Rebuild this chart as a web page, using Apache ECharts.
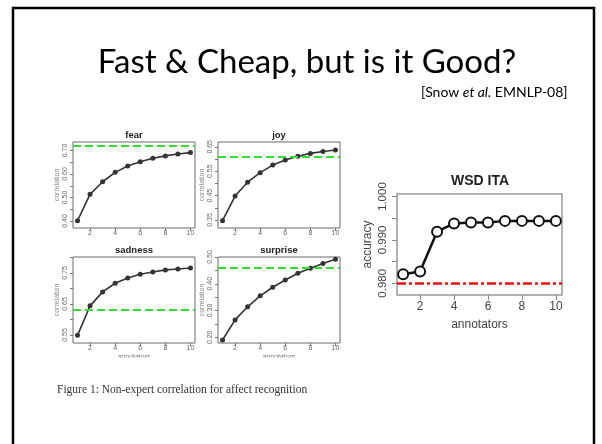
<!DOCTYPE html>
<html>
<head>
<meta charset="utf-8">
<script src="https://cdn.jsdelivr.net/npm/echarts@6/dist/echarts.min.js"></script>
<style>
  html, body { margin: 0; padding: 0; background: #fff; }
  #main { width: 602px; height: 444px; }
</style>
</head>
<body>
<div id="main"></div>
<script>
// annotators on the x axis, shared by every panel
const annotators = [1, 2, 3, 4, 5, 6, 7, 8, 9, 10];
const xTicks = [2, 4, 6, 8, 10];

// correlation curves (affect recognition)
const fear = [0.401, 0.514, 0.567, 0.607, 0.634, 0.652, 0.667, 0.677, 0.685, 0.691];
const joy = [0.347, 0.448, 0.505, 0.544, 0.575, 0.596, 0.611, 0.623, 0.631, 0.637];
const sadness = [0.549, 0.644, 0.689, 0.717, 0.734, 0.746, 0.753, 0.760, 0.763, 0.766];
const surprise = [0.190, 0.265, 0.314, 0.355, 0.387, 0.414, 0.439, 0.458, 0.476, 0.492];
const expertLevel = { fear: 0.716, joy: 0.607, sadness: 0.633, surprise: 0.456 };

// y ticks / labels of the small panels
const fearTicks = [0.40, 0.45, 0.50, 0.55, 0.60, 0.65, 0.70];
const fearLabels = [0.40, 0.50, 0.60, 0.70];
const joyTicks = [0.35, 0.40, 0.45, 0.50, 0.55, 0.60, 0.65];
const joyLabels = [0.35, 0.45, 0.55, 0.65];
const sadnessTicks = [0.55, 0.60, 0.65, 0.70, 0.75, 0.80];
const sadnessLabels = [0.55, 0.65, 0.75];
const surpriseTicks = [0.20, 0.25, 0.30, 0.35, 0.40, 0.45, 0.50];
const surpriseLabels = [0.20, 0.30, 0.40, 0.50];

// WSD inter-annotator agreement
const wsdAccuracy = [0.9821, 0.9827, 0.9919, 0.9938, 0.9940, 0.9940, 0.9944, 0.9944, 0.9944, 0.9944];
const wsdExpert = 0.980;
const wsdTicks = [0.980, 0.985, 0.990, 0.995, 1.000];
const wsdLabels = [0.980, 0.990, 1.000];

const FONT = 'Liberation Sans';

// one small R-style panel
function smallPanel(i, box, vals, base, yMin, yMax, ticks, labels, xName) {
  return {
    grid: Object.assign({ show: true, borderColor: '#6a6a6a', borderWidth: 1, backgroundColor: 'transparent' }, box),
    xAxis: {
      type: 'value', gridIndex: i, min: 0.64, max: 10.36,
      axisLine: { show: false, onZero: false }, splitLine: { show: false },
      axisTick: { length: 3, customValues: xTicks, lineStyle: { color: '#777' } },
      axisLabel: { customValues: xTicks, fontSize: 7, color: '#666', margin: 2, fontFamily: FONT },
      name: xName, nameLocation: 'middle', nameGap: 11,
      nameTextStyle: { fontSize: 7, color: '#777', fontFamily: FONT }
    },
    yAxis: {
      type: 'value', gridIndex: i, min: yMin, max: yMax,
      axisLine: { show: false, onZero: false }, splitLine: { show: false },
      axisTick: { length: 3, customValues: ticks, lineStyle: { color: '#777' } },
      axisLabel: {
        customValues: labels, rotate: 90, fontSize: 7, color: '#666', margin: 4, fontFamily: FONT,
        formatter: v => v.toFixed(2)
      },
      name: 'correlation', nameLocation: 'middle', nameGap: 12,
      nameTextStyle: { fontSize: 7, color: '#888', fontFamily: FONT }
    },
    series: {
      type: 'line', xAxisIndex: i, yAxisIndex: i,
      data: annotators.map((x, k) => [x, vals[k]]),
      symbol: 'circle', symbolSize: 5,
      itemStyle: { color: '#333' },
      lineStyle: { color: '#333', width: 1.6 },
      markLine: {
        silent: true, symbol: 'none', label: { show: false },
        lineStyle: { color: '#33dd33', type: [8, 4], width: 1.8 },
        data: [{ yAxis: base }]
      }
    }
  };
}

const panels = [
  smallPanel(0, { left: 73, top: 142, width: 122, height: 86 }, fear, expertLevel.fear, 0.3702, 0.7362, fearTicks, fearLabels, ''),
  smallPanel(1, { left: 218, top: 142, width: 122, height: 86 }, joy, expertLevel.joy, 0.3172, 0.6697, joyTicks, joyLabels, ''),
  smallPanel(2, { left: 73, top: 257, width: 122, height: 86 }, sadness, expertLevel.sadness, 0.5242, 0.8016, sadnessTicks, sadnessLabels, 'annotators'),
  smallPanel(3, { left: 218, top: 257, width: 122, height: 86 }, surprise, expertLevel.surprise, 0.1787, 0.50, surpriseTicks, surpriseLabels, 'annotators')
];

// WSD ITA panel
const wsdGrid = { show: true, borderColor: '#999', borderWidth: 1.5, left: 397, top: 194, width: 165, height: 101 };
const wsdX = {
  type: 'value', gridIndex: 4, min: 0.64, max: 10.36,
  axisLine: { show: false, onZero: false }, splitLine: { show: false },
  axisTick: { length: 5, customValues: xTicks, lineStyle: { color: '#888' } },
  axisLabel: { customValues: xTicks, fontSize: 12, color: '#444', margin: 6, fontFamily: FONT },
  name: 'annotators', nameLocation: 'middle', nameGap: 24,
  nameTextStyle: { fontSize: 12, color: '#444', fontFamily: FONT }
};
const wsdY = {
  type: 'value', gridIndex: 4, min: 0.9773, max: 1.0006,
  axisLine: { show: false, onZero: false }, splitLine: { show: false },
  axisTick: { length: 5, customValues: wsdTicks, lineStyle: { color: '#888' } },
  axisLabel: {
    customValues: wsdLabels, rotate: 90, fontSize: 11.5, color: '#444', margin: 8, fontFamily: FONT,
    formatter: v => v.toFixed(3)
  },
  name: 'accuracy', nameLocation: 'middle', nameGap: 23,
  nameTextStyle: { fontSize: 12, color: '#444', fontFamily: FONT }
};
const wsdSeries = {
  type: 'line', xAxisIndex: 4, yAxisIndex: 4,
  data: annotators.map((x, k) => [x, wsdAccuracy[k]]),
  symbol: 'circle', symbolSize: 10,
  itemStyle: { color: '#fff', borderColor: '#111', borderWidth: 2 },
  lineStyle: { color: '#111', width: 2.5 },
  z: 3,
  markLine: {
    silent: true, symbol: 'none', label: { show: false },
    lineStyle: { color: '#e81010', type: [9, 3, 3, 3], width: 2.5 },
    data: [{ yAxis: wsdExpert }]
  }
};

const panelTitle = (text, x, y, size) => ({
  type: 'text', x: x, y: y,
  style: { text: text, fontFamily: FONT, fontWeight: 'bold', fontSize: size, fill: '#222', textAlign: 'center', textVerticalAlign: 'middle' }
});

let myChart = echarts.init(document.getElementById('main'));
let option = {
  animation: false,
  backgroundColor: '#fff',
  grid: panels.map(p => p.grid).concat([wsdGrid]),
  xAxis: panels.map(p => p.xAxis).concat([wsdX]),
  yAxis: panels.map(p => p.yAxis).concat([wsdY]),
  series: panels.map(p => p.series).concat([wsdSeries]),
  graphic: [
    // slide frame
    { type: 'rect', shape: { x: 13, y: 8, width: 581, height: 470 }, style: { fill: 'none', stroke: '#000', lineWidth: 2.5 }, z: 100 },
    // slide title + citation
    { type: 'text', x: 307, y: 62, style: { text: 'Fast & Cheap, but is it Good?', fontFamily: 'Lato', fontSize: 33, fill: '#000', textAlign: 'center', textVerticalAlign: 'middle' } },
    {
      type: 'text', x: 421, y: 92,
      style: {
        text: '{n|[Snow }{i|et al.}{n| EMNLP-08]}', textVerticalAlign: 'middle',
        rich: {
          n: { fontFamily: 'Lato', fontSize: 14, fill: '#000' },
          i: { fontFamily: 'Lato', fontSize: 14, fontStyle: 'italic', fill: '#000' }
        }
      }
    },
    panelTitle('fear', 134, 135, 9.5),
    panelTitle('joy', 279, 135, 9.5),
    panelTitle('sadness', 134, 250, 9.5),
    panelTitle('surprise', 279, 250, 9.5),
    panelTitle('WSD ITA', 480, 181, 14),
    // the figure is cropped just under the bottom axis titles
    { type: 'rect', shape: { x: 40, y: 357.5, width: 320, height: 14 }, style: { fill: '#fff' }, z: 90 },
    {
      type: 'text', x: 57, y: 390,
      style: { text: 'Figure 1: Non-expert correlation for affect recognition', fontFamily: 'Liberation Serif', fontSize: 11.5, fill: '#333', textVerticalAlign: 'middle' }
    }
  ]
};
myChart.setOption(option);
</script>
</body>
</html>
